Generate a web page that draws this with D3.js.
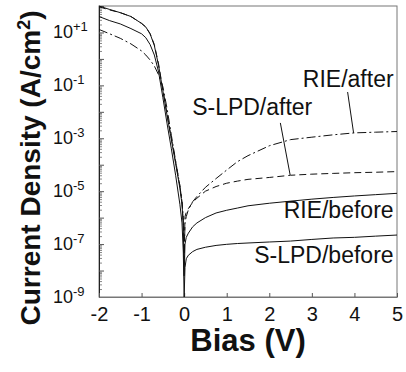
<!DOCTYPE html>
<html>
<head>
<meta charset="utf-8">
<script src="https://cdn.jsdelivr.net/npm/d3@7"></script>
<style>
body { margin: 0; background: #fff; }
text { font-family: "Liberation Sans", Arial, sans-serif; fill: #111; }
</style>
</head>
<body>
<div id="chart"></div>
<script>
// bias points (V) shared by every curve
var bias = [-2, -1.75, -1.5, -1.25, -1, -0.9, -0.8, -0.7, -0.6, -0.5, -0.4, -0.3, -0.2, -0.1, -0.05, -0.02, 0,
	0.02, 0.05, 0.1, 0.2, 0.3, 0.5, 0.75, 1, 1.25, 1.5, 2, 2.5, 3, 3.5, 4, 4.5, 5];

// current density (A/cm2)
var rieAfter = [13, 8.9, 6.0, 3.7, 2.0, 1.4, 0.91, 0.54, 0.25, 8.9e-2, 1.3e-2, 1.3e-3, 1.4e-4, 1.6e-5, 4.0e-6, 1.0e-6, 2.5e-8,
	6.3e-7, 1.1e-6, 2.0e-6, 4.0e-6, 6.3e-6, 1.4e-5, 3.0e-5, 6.3e-5, 1.3e-4, 2.2e-4, 5.2e-4, 8.9e-4, 1.1e-3, 1.35e-3, 1.6e-3, 1.7e-3, 1.8e-3];
var slpdAfter = [93, 71, 56, 40, 22, 16, 8.9, 3.5, 0.63, 7.1e-2, 7.9e-3, 1.0e-3, 1.3e-4, 1.6e-5, 4.0e-6, 6.3e-7, 4.0e-8,
	1.1e-6, 1.6e-6, 2.2e-6, 3.8e-6, 5.4e-6, 1.0e-5, 1.5e-5, 2.0e-5, 2.4e-5, 2.8e-5, 3.3e-5, 4.0e-5, 4.4e-5, 4.7e-5, 5.0e-5, 5.2e-5, 5.5e-5];
var rieBefore = [100, 74, 56, 40, 22, 16, 8.9, 3.2, 0.56, 6.3e-2, 7.1e-3, 8.9e-4, 1.1e-4, 1.3e-5, 3.2e-6, 5.0e-7, 6.3e-9,
	1.0e-7, 1.8e-7, 2.6e-7, 4.5e-7, 6.3e-7, 1.0e-6, 1.5e-6, 1.9e-6, 2.3e-6, 2.8e-6, 3.5e-6, 4.2e-6, 5.0e-6, 5.8e-6, 6.6e-6, 7.4e-6, 8.3e-6];
var slpdBefore = [40, 28, 21, 14, 8.9, 6.3, 3.5, 1.4, 0.32, 3.5e-2, 3.5e-3, 4.0e-4, 4.0e-5, 3.2e-6, 6.3e-7, 5.0e-8, 1.0e-9,
	1.3e-8, 2.8e-8, 3.8e-8, 5.2e-8, 6.3e-8, 7.6e-8, 8.9e-8, 9.8e-8, 1.05e-7, 1.1e-7, 1.2e-7, 1.3e-7, 1.5e-7, 1.7e-7, 1.8e-7, 2.0e-7, 2.2e-7];

var xTicks = [-2, -1, 0, 1, 2, 3, 4, 5];
var yTickExp = [-9, -7, -5, -3, -1, 1];

var series = [
	{name: "RIE/after", values: rieAfter, dash: "9,3,2,3"},
	{name: "S-LPD/after", values: slpdAfter, dash: "7,4"},
	{name: "RIE/before", values: rieBefore, dash: null},
	{name: "S-LPD/before", values: slpdBefore, dash: null}
];

// label text + leader line, in data units
var labels = [
	{text: "RIE/after", x: 4.92, y: 8.7e-2, line: [[3.84, 5.6e-2], [3.98, 1.6e-3]]},
	{text: "S-LPD/after", x: 3.01, y: 7.6e-3, line: [[2.26, 3.8e-3], [2.49, 4.1e-5]]},
	{text: "RIE/before", x: 4.92, y: 1.0e-6, line: null},
	{text: "S-LPD/before", x: 4.92, y: 1.95e-8, line: null}
];

var width = 406, height = 372;
var svg = d3.select("#chart").append("svg")
	.attr("width", width)
	.attr("height", height);

var x = d3.scaleLinear().domain([-2, 5]).range([99, 397]);
var y = d3.scaleLog().domain([1e-9, 1e2]).range([297, 6]);

// frame
svg.append("rect")
	.attr("x", x(-2)).attr("y", y(1e2))
	.attr("width", x(5) - x(-2)).attr("height", y(1e-9) - y(1e2))
	.attr("fill", "none").attr("stroke", "#777").attr("stroke-width", 1);

// y minor ticks (inside)
var minor = [];
for (var e = -9; e < 2; e++) for (var m = 2; m <= 9; m++) minor.push(m * Math.pow(10, e));
svg.append("g")
	.attr("transform", "translate(" + x(-2) + ",0)")
	.call(d3.axisLeft(y).tickValues(minor).tickSizeInner(-3).tickSizeOuter(0).tickFormat(""))
	.call(g => g.select(".domain").remove())
	.selectAll("line").attr("stroke", "#888");

// y major ticks + labels
var yAxis = svg.append("g")
	.attr("transform", "translate(" + x(-2) + ",0)")
	.call(d3.axisLeft(y).tickValues(d3.range(-9, 3).map(k => Math.pow(10, k))).tickSizeInner(-5).tickSizeOuter(0).tickFormat(""));
yAxis.select(".domain").attr("stroke", "#222");
yAxis.selectAll("line").attr("stroke", "#555");

var yLab = svg.append("g").selectAll("text")
	.data(yTickExp)
	.enter()
	.append("text")
	.attr("x", 53)
	.attr("y", d => y(Math.pow(10, d)) + 6)
	.style("font-size", "18px");
yLab.append("tspan").text("10");
yLab.append("tspan")
	.attr("dy", -7)
	.style("font-size", "13px")
	.text(d => d > 0 ? "+" + d : "" + d);

// x axis
var xAxis = svg.append("g")
	.attr("transform", "translate(0," + y(1e-9) + ")")
	.call(d3.axisBottom(x).tickValues(xTicks).tickSizeInner(-4).tickSizeOuter(0).tickPadding(10).tickFormat(d => String(d)));
xAxis.select(".domain").attr("stroke", "#777");
xAxis.selectAll("line").attr("stroke", "#555");
xAxis.selectAll("text")
	.style("font-size", "20px")
	.style("font-family", "Liberation Sans, Arial, sans-serif")
	.attr("fill", "#111");

// curves
var line = d3.line()
	.x((d, i) => x(bias[i]))
	.y(d => y(d));

svg.append("g").selectAll("path")
	.data(series)
	.enter()
	.append("path")
	.attr("d", d => line(d.values))
	.attr("fill", "none")
	.attr("stroke", "#111")
	.attr("stroke-width", 1)
	.attr("stroke-dasharray", d => d.dash);

// labels
svg.append("g").selectAll("text")
	.data(labels)
	.enter()
	.append("text")
	.attr("x", d => x(d.x))
	.attr("y", d => y(d.y))
	.attr("text-anchor", "end")
	.style("font-size", "23px")
	.text(d => d.text);

svg.append("g").selectAll("line")
	.data(labels.filter(d => d.line))
	.enter()
	.append("line")
	.attr("x1", d => x(d.line[0][0]))
	.attr("y1", d => y(d.line[0][1]))
	.attr("x2", d => x(d.line[1][0]))
	.attr("y2", d => y(d.line[1][1]))
	.attr("stroke", "#111")
	.attr("stroke-width", 1);

// axis titles
svg.append("text")
	.attr("transform", "translate(40,168) rotate(-90)")
	.attr("text-anchor", "middle")
	.style("font-size", "28px")
	.style("font-weight", "bold")
	.html("Current Density (A/cm<tspan dy='-10' style='font-size:18px'>2</tspan><tspan dy='10'>)</tspan>");

svg.append("text")
	.attr("x", 248)
	.attr("y", 351)
	.attr("text-anchor", "middle")
	.style("font-size", "31px")
	.style("font-weight", "bold")
	.text("Bias (V)");
</script>
</body>
</html>
